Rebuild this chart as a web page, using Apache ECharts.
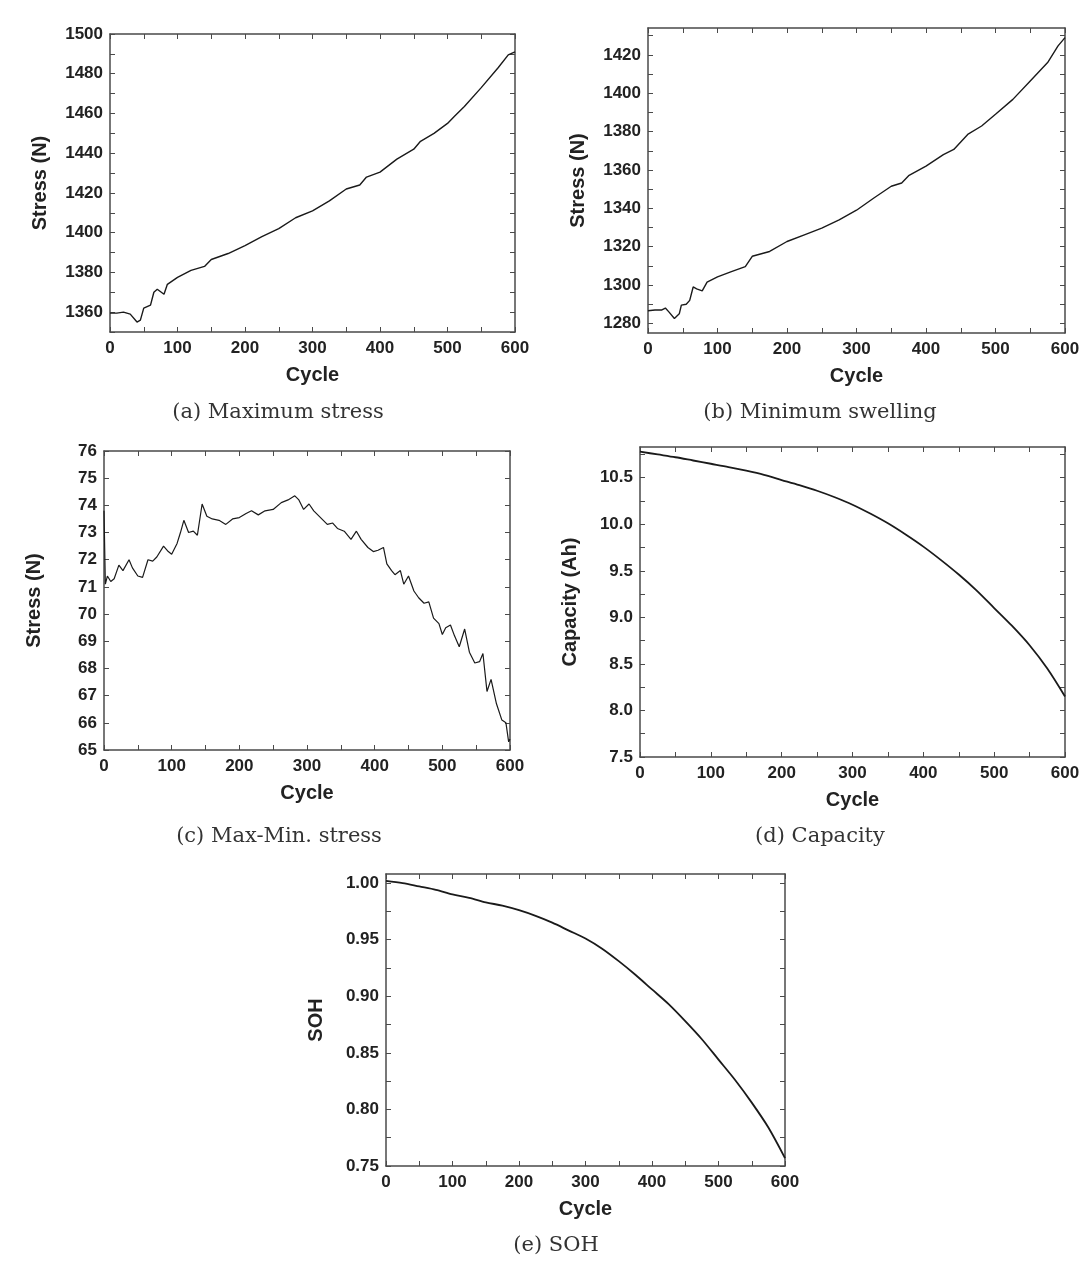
<!DOCTYPE html>
<html>
<head>
<meta charset="utf-8">
<script src="https://cdn.jsdelivr.net/npm/echarts@6/dist/echarts.min.js"></script>
<style>
html,body{margin:0;padding:0;background:#fff;}
#chart{width:1083px;height:1262px;}
</style>
</head>
<body>
<div id="chart"></div>
<script>
// ---- Data ----
const cycleA = [0,10,20,30,40,45,50,60,65,70,80,85,100,120,140,150,175,200,225,250,275,300,325,350,370,380,400,425,450,460,480,500,510,525,550,575,590,600];
const maxStress = [1359.5,1359.5,1360,1359,1355,1356,1362,1363.5,1370,1371.5,1369,1374,1377.5,1381,1383,1386.5,1389.5,1393.5,1398,1402,1407.5,1411,1416,1422,1424,1428,1430.5,1437,1442,1446,1450,1455,1458.5,1463.5,1473,1483,1489.5,1491];

const cycleB = [0,10,20,25,30,38,45,48,55,60,65,70,78,85,100,120,140,150,175,200,225,250,275,300,325,350,365,375,400,425,440,460,480,500,525,550,575,590,600];
const minSwelling = [1286.6,1287,1287,1288,1286,1282.6,1285,1289.5,1290,1292,1299,1298,1297,1301.5,1304.3,1307,1309.6,1315,1317.5,1322.7,1326.2,1329.7,1334,1339,1345.4,1351.5,1353.2,1357,1362,1368,1370.7,1378.5,1382.9,1389,1396.8,1406.4,1416,1424.7,1429];

const cycleC = [0,2,5,10,15,22,28,37,42,50,57,65,72,78,88,95,100,108,113,118,125,132,138,145,152,160,170,180,190,200,210,218,228,238,250,262,272,282,288,295,303,310,320,330,338,345,355,365,373,380,390,398,405,413,418,425,430,438,443,450,458,465,473,480,487,495,500,505,512,518,525,533,540,548,555,560,566,572,580,588,594,598,600];
const maxMinStress = [73.8,71.1,71.4,71.2,71.3,71.8,71.6,72.0,71.7,71.4,71.35,72.0,71.95,72.1,72.5,72.3,72.2,72.6,73.0,73.45,73.0,73.05,72.9,74.05,73.6,73.5,73.45,73.3,73.5,73.55,73.7,73.8,73.65,73.8,73.85,74.1,74.2,74.35,74.2,73.85,74.05,73.8,73.55,73.3,73.35,73.15,73.05,72.75,73.05,72.75,72.45,72.3,72.35,72.45,71.85,71.6,71.45,71.6,71.1,71.4,70.85,70.6,70.4,70.45,69.85,69.65,69.25,69.5,69.6,69.2,68.8,69.45,68.6,68.2,68.25,68.55,67.15,67.6,66.7,66.1,66.0,65.3,65.4];

const cycleD = [0,25,50,75,100,125,150,175,200,225,250,275,300,325,350,375,400,425,450,475,500,525,550,575,600];
const capacity = [10.78,10.75,10.72,10.685,10.65,10.615,10.575,10.53,10.475,10.42,10.36,10.29,10.21,10.115,10.01,9.89,9.76,9.615,9.46,9.29,9.1,8.91,8.7,8.45,8.15];

const cycleE = [0,25,50,75,100,125,150,175,200,225,250,275,300,325,350,375,400,425,450,475,500,525,550,575,600];
const soh = [1.002,1.0,0.997,0.994,0.990,0.987,0.983,0.980,0.976,0.971,0.965,0.958,0.951,0.942,0.931,0.919,0.906,0.893,0.878,0.862,0.844,0.826,0.806,0.784,0.757];

const xLabels = [0,100,200,300,400,500,600];
const xTicks = [0,50,100,150,200,250,300,350,400,450,500,550,600];
const yLabelsA = [1360,1380,1400,1420,1440,1460,1480,1500];
const yTicksA = [1350,1360,1370,1380,1390,1400,1410,1420,1430,1440,1450,1460,1470,1480,1490,1500];
const yLabelsB = [1280,1300,1320,1340,1360,1380,1400,1420];
const yTicksB = [1280,1290,1300,1310,1320,1330,1340,1350,1360,1370,1380,1390,1400,1410,1420,1430];
const yLabelsC = [65,66,67,68,69,70,71,72,73,74,75,76];
const yLabelsD = [7.5,8.0,8.5,9.0,9.5,10.0,10.5];
const yTicksD = [7.5,7.75,8.0,8.25,8.5,8.75,9.0,9.25,9.5,9.75,10.0,10.25,10.5,10.75];
const yLabelsE = [0.75,0.80,0.85,0.90,0.95,1.00];
const yTicksE = [0.75,0.775,0.80,0.825,0.85,0.875,0.90,0.925,0.95,0.975,1.00];

const captions = ['(a) Maximum stress','(b) Minimum swelling','(c) Max-Min. stress','(d) Capacity','(e) SOH'];

// ---- Layout ----
const grids = [
  {left:110, top:34, width:405, height:298},
  {left:648, top:28, width:417, height:305},
  {left:104, top:451, width:406, height:299},
  {left:640, top:447, width:425, height:310},
  {left:386, top:874, width:399, height:292}
];
const capPos = [[278,413],[820,413],[279,837],[820,837],[556,1246]];

const panels = [
  {x:cycleA, y:maxStress, ymin:1350, ymax:1500, yl:yLabelsA, yt:yTicksA, name:'Stress (N)', fmt:v=>String(v), lw:1.4, smooth:false},
  {x:cycleB, y:minSwelling, ymin:1275, ymax:1434, yl:yLabelsB, yt:yTicksB, name:'Stress (N)', fmt:v=>String(v), lw:1.4, smooth:false},
  {x:cycleC, y:maxMinStress, ymin:65, ymax:76, yl:yLabelsC, yt:yLabelsC, name:'Stress (N)', fmt:v=>String(v), lw:1.2, smooth:false},
  {x:cycleD, y:capacity, ymin:7.5, ymax:10.83, yl:yLabelsD, yt:yTicksD, name:'Capacity (Ah)', fmt:v=>v.toFixed(1), lw:1.8, smooth:0.3},
  {x:cycleE, y:soh, ymin:0.75, ymax:1.008, yl:yLabelsE, yt:yTicksE, name:'SOH', fmt:v=>v.toFixed(2), lw:1.8, smooth:0.3}
];

const FONT = 'Liberation Sans, Arial, sans-serif';
const lineCol = '#4a4a4a';
const xAxis = [], yAxis = [], series = [];
panels.forEach((p, i) => {
  const common = {
    axisLine:{show:true, onZero:false, lineStyle:{color:lineCol, width:1.5}},
    splitLine:{show:false}
  };
  xAxis.push(Object.assign({}, common, {
    type:'value', gridIndex:i, min:0, max:600, position:'bottom',
    name:'Cycle', nameLocation:'middle', nameGap:33,
    nameTextStyle:{fontFamily:FONT, fontWeight:'bold', fontSize:20, color:'#222'},
    axisTick:{show:true, inside:true, length:5, customValues:xTicks, lineStyle:{color:lineCol}},
    axisLabel:{show:true, customValues:xLabels, margin:8, fontFamily:FONT, fontWeight:'bold', fontSize:17, color:'#222'}
  }));
  xAxis.push(Object.assign({}, common, {
    type:'value', gridIndex:i, min:0, max:600, position:'top',
    axisTick:{show:true, inside:true, length:5, customValues:xTicks, lineStyle:{color:lineCol}},
    axisLabel:{show:false}
  }));
  yAxis.push(Object.assign({}, common, {
    type:'value', gridIndex:i, min:p.ymin, max:p.ymax, position:'left',
    name:p.name, nameLocation:'middle', nameGap:60,
    nameTextStyle:{fontFamily:FONT, fontWeight:'bold', fontSize:20, color:'#222'},
    axisTick:{show:true, inside:true, length:5, customValues:p.yt, lineStyle:{color:lineCol}},
    axisLabel:{show:true, customValues:p.yl, margin:7, formatter:p.fmt, fontFamily:FONT, fontWeight:'bold', fontSize:17, color:'#222'}
  }));
  yAxis.push(Object.assign({}, common, {
    type:'value', gridIndex:i, min:p.ymin, max:p.ymax, position:'right',
    axisTick:{show:true, inside:true, length:5, customValues:p.yt, lineStyle:{color:lineCol}},
    axisLabel:{show:false}
  }));
  series.push({
    type:'line', xAxisIndex:2*i, yAxisIndex:2*i,
    data:p.x.map((c,k)=>[c, p.y[k]]),
    showSymbol:false, symbol:'none', smooth:p.smooth,
    lineStyle:{color:'#1a1a1a', width:p.lw},
    animation:false
  });
});

const graphic = captions.map((t,i)=>({
  type:'text', x:capPos[i][0], y:capPos[i][1],
  style:{text:t, fill:'#333', font:'21px "DejaVu Serif", "Liberation Serif", serif', textAlign:'center', textVerticalAlign:'middle'}
}));

const chart = echarts.init(document.getElementById('chart'), null, {renderer:'canvas'});
chart.setOption({
  backgroundColor:'#fff',
  animation:false,
  grid: grids.map(g=>Object.assign({containLabel:false}, g)),
  xAxis, yAxis, series, graphic
});
</script>
</body>
</html>
